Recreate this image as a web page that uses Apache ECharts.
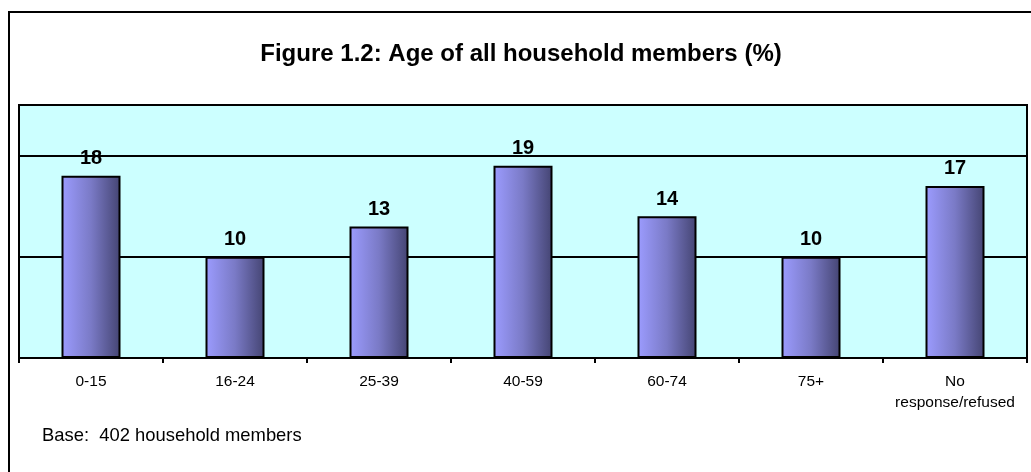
<!DOCTYPE html>
<html>
<head>
<meta charset="utf-8">
<script src="https://cdn.jsdelivr.net/npm/echarts@6/dist/echarts.min.js"></script>
<style>
  html, body { margin: 0; padding: 0; background: #fff; }
  #chart { width: 1031px; height: 472px; }
</style>
</head>
<body>
<div id="chart"></div>
<script>
var categories = ['0-15', '16-24', '25-39', '40-59', '60-74', '75+', 'No\nresponse/refused'];
var values = [18, 10, 13, 19, 14, 10, 17];
var titleText = 'Figure 1.2: Age of all household members (%)';
var baseText = 'Base:  402 household members';

var font = '"Liberation Sans", Arial, sans-serif';
var chart = echarts.init(document.getElementById('chart'), null, { renderer: 'canvas' });

var barColor = new echarts.graphic.LinearGradient(0, 0, 1, 0, [
    { offset: 0, color: '#9c9cff' },
    { offset: 0.5, color: '#7a7ac6' },
    { offset: 1, color: '#444472' }
]);

chart.setOption({
    animation: false,
    backgroundColor: '#ffffff',
    grid: {
        left: 19,
        right: 4,
        top: 105,
        bottom: 114,
        show: true,
        backgroundColor: '#ccffff',
        borderColor: '#000',
        borderWidth: 2
    },
    xAxis: {
        type: 'category',
        data: categories,
        axisLine: { lineStyle: { color: '#000', width: 2 } },
        axisTick: { show: true, length: 5, lineStyle: { color: '#000', width: 2 } },
        axisLabel: {
            color: '#000',
            fontFamily: font,
            fontSize: 15.5,
            lineHeight: 21,
            margin: 13,
            interval: 0
        }
    },
    yAxis: {
        type: 'value',
        min: 0,
        max: 25,
        interval: 10,
        axisLine: { show: false },
        axisTick: { show: false },
        axisLabel: { show: false },
        splitLine: { show: true, lineStyle: { color: '#000', width: 2 } }
    },
    series: [{
        type: 'bar',
        data: values,
        barWidth: 59,
        itemStyle: {
            color: barColor,
            borderColor: '#000',
            borderWidth: 2
        },
        label: {
            show: true,
            position: 'top',
            distance: 7,
            color: '#000',
            fontFamily: font,
            fontSize: 20,
            fontWeight: 'bold'
        }
    }],
    graphic: [
        {
            type: 'rect',
            shape: { x: 9, y: 12, width: 1040, height: 480 },
            style: { fill: 'none', stroke: '#000', lineWidth: 2 },
            z: 100
        },
        {
            type: 'text',
            x: 521,
            y: 54,
            style: {
                text: titleText,
                fill: '#000',
                font: 'bold 24px ' + font,
                textAlign: 'center',
                textVerticalAlign: 'middle'
            }
        },
        {
            type: 'text',
            x: 42,
            y: 436,
            style: {
                text: baseText,
                fill: '#000',
                font: '18.4px ' + font,
                textAlign: 'left',
                textVerticalAlign: 'middle'
            }
        }
    ]
});
</script>
</body>
</html>
